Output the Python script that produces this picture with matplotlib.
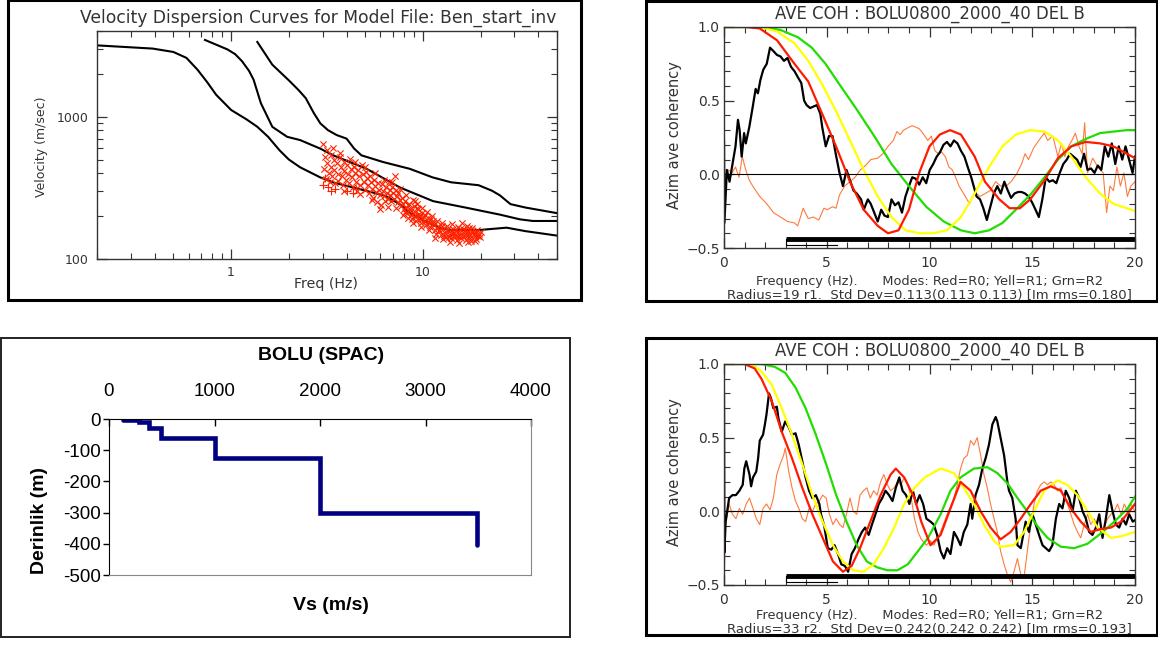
import numpy as np
import matplotlib
matplotlib.use('Agg')
import matplotlib.pyplot as plt
from matplotlib.patches import Rectangle
from matplotlib.ticker import FixedLocator, FixedFormatter, MultipleLocator, NullFormatter

# ---------------- dispersion curves (Hz, m/s) ----------------
mode0_f = [0.2, 0.39, 0.5, 0.585, 0.668, 0.75, 0.836, 1.0, 1.2, 1.37, 1.56, 1.79, 2.0, 2.29, 2.91, 3.41,
           5.09, 6.41, 7.59, 8.55, 10.3, 12.3, 13.8, 19.8, 27.3, 34.2, 50]
mode0_v = [3170, 3010, 2850, 2590, 2140, 1750, 1425, 1115, 960, 849, 722, 580, 500, 441, 375, 345,
           301, 277, 242, 211, 184, 165, 160, 160, 166, 157, 146]
mode1_f = [0.731, 0.957, 1.05, 1.14, 1.24, 1.31, 1.43, 1.64, 1.96, 2.29, 2.92, 3.41, 5.09, 7.59, 11.3,
           16.9, 25.2, 32, 37.4, 50]
mode1_v = [3460, 2970, 2750, 2455, 2100, 1820, 1244, 849, 722, 685, 596, 535, 430, 318, 255,
           229, 205, 190, 185, 185]
mode2_f = [1.37, 1.64, 2.0, 2.24, 2.45, 2.7, 2.92, 3.2, 3.55, 4.0, 4.38, 4.78, 6.21, 8.55, 11.2, 14.0,
           19.5, 22.9, 25.2, 28.6, 34.2, 50]
mode2_v = [3350, 2320, 1800, 1545, 1350, 1060, 897, 804, 743, 701, 597, 535, 480, 430, 375, 346,
           330, 302, 280, 243, 230, 210]

# observed phase velocities
obs_x = [(3.02, 640), (3.08, 520), (3.05, 430), (3.11, 365), (3.15, 580), (3.18, 470), (3.22, 405),
         (3.26, 350), (3.3, 540), (3.33, 445), (3.37, 385), (3.42, 500), (3.46, 420), (3.5, 340),
         (3.55, 470), (3.6, 395), (3.63, 355), (3.68, 520), (3.72, 440), (3.77, 380), (3.82, 330),
         (3.86, 480), (3.9, 415), (3.96, 360), (4.02, 455), (4.05, 395), (4.1, 340), (4.15, 505),
         (4.2, 430), (4.26, 375), (4.31, 320), (4.37, 445), (4.42, 400), (4.48, 350), (4.55, 300),
         (4.6, 420), (4.66, 380), (4.72, 330), (4.8, 460), (4.86, 395), (4.92, 350), (4.98, 305),
         (5.05, 410), (5.1, 370), (5.17, 330), (5.23, 290), (5.3, 385), (5.36, 345), (5.43, 310),
         (5.5, 270), (5.58, 360), (5.64, 325), (5.7, 295), (5.77, 250), (5.84, 340), (5.9, 305),
         (5.97, 280), (6.05, 240), (6.12, 335), (6.18, 300), (6.25, 275), (6.33, 255), (6.4, 320),
         (6.47, 290), (6.55, 265), (6.62, 345), (6.7, 305), (6.77, 280), (6.85, 255), (6.92, 320),
         (7.0, 290), (7.08, 265), (7.15, 380), (7.22, 305), (7.3, 275), (7.38, 250), (7.45, 290),
         (7.55, 260), (7.65, 235), (7.75, 270), (7.85, 245), (7.95, 225), (8.05, 255), (8.15, 230),
         (8.25, 210), (8.35, 195), (8.45, 245), (8.55, 225), (8.65, 205), (8.75, 190), (8.85, 260),
         (8.95, 235), (9.05, 215), (9.15, 200), (9.25, 185), (9.35, 245), (9.45, 225), (9.55, 208),
         (9.65, 192), (9.75, 178), (9.85, 230), (9.95, 212), (10.1, 198), (10.2, 184), (10.35, 172),
         (10.5, 215), (10.65, 195), (10.8, 180), (10.95, 168), (11.1, 200), (11.25, 185), (11.4, 172),
         (11.55, 160), (11.7, 150), (11.85, 185), (12.0, 170), (12.2, 158), (12.4, 148), (12.6, 178),
         (12.8, 163), (13.0, 152), (13.2, 143), (13.4, 170), (13.6, 158), (13.8, 148), (14.0, 140),
         (14.2, 176), (14.4, 162), (14.6, 152), (14.8, 144), (15.0, 136), (15.2, 168), (15.4, 157),
         (15.6, 148), (15.8, 140), (16.0, 178), (16.2, 163), (16.4, 153), (16.6, 145), (16.8, 137),
         (17.0, 170), (17.2, 158), (17.4, 149), (17.6, 141), (17.8, 134), (18.0, 165), (18.3, 154),
         (18.6, 146), (18.9, 139), (19.2, 160), (19.5, 150), (19.8, 143), (20.0, 155),
         (8.1, 215), (8.4, 238), (8.7, 218), (9.0, 200), (9.3, 228), (9.6, 200), (9.9, 190),
         (10.3, 205), (10.6, 185), (11.0, 190), (11.3, 178), (11.8, 165), (12.1, 160), (12.5, 170),
         (12.9, 145), (13.3, 160), (13.7, 142), (14.1, 155), (14.5, 145), (14.9, 160), (15.3, 145),
         (15.7, 162), (16.1, 145), (16.5, 160), (16.9, 150), (17.3, 165), (17.7, 148), (18.1, 158),
         (18.5, 150), (19.0, 152), (19.4, 145),
         (3.4, 600), (3.7, 560), (4.4, 480), (5.0, 440), (5.6, 400), (6.3, 360), (6.9, 350),
         (7.6, 310), (8.2, 280), (9.1, 255), (3.9, 300), (4.7, 285), (5.4, 260), (6.0, 225),
         (6.6, 232), (7.2, 228), (7.9, 205), (8.9, 178), (9.8, 168), (10.8, 160), (11.6, 140),
         (12.7, 138), (13.9, 132), (15.5, 130), (17.1, 131), (18.7, 134)]
obs_plus = [(3.0, 330), (3.2, 320), (3.5, 310), (4.0, 300), (3.1, 370), (3.3, 300), (4.3, 290),
            (4.5, 310)]

# ---------------- Vs profile ----------------
vs = [130, 280, 280, 380, 380, 495, 495, 1005, 1005, 2000, 2000, 3490, 3490]
depth = [-4, -4, -10, -10, -30, -30, -61, -61, -125, -125, -300, -300, -405]
vs_ticks = [0, 1000, 2000, 3000, 4000]
depth_ticks = [0, -100, -200, -300, -400, -500]

# ---------------- coherency, radius r1 ----------------
r1_black = [(0.00, 0.23), (0.02, -0.33), (0.14, 0.03), (0.27, -0.05), (0.39, 0.05), (0.56, 0.19),
            (0.68, 0.37), (0.76, 0.30), (0.86, 0.12), (0.98, 0.28), (1.06, 0.21), (1.23, 0.32),
            (1.40, 0.46), (1.54, 0.58), (1.65, 0.55), (1.77, 0.64), (1.91, 0.71), (2.08, 0.75),
            (2.24, 0.86), (2.38, 0.84), (2.58, 0.81), (2.75, 0.80), (2.92, 0.77), (3.09, 0.79),
            (3.26, 0.73), (3.43, 0.70), (3.59, 0.66), (3.76, 0.62), (3.90, 0.50), (4.02, 0.47),
            (4.19, 0.45), (4.35, 0.46), (4.52, 0.47), (4.69, 0.41), (4.78, 0.32), (4.95, 0.19),
            (5.11, 0.26), (5.28, 0.26), (5.45, 0.13), (5.62, 0.01), (5.79, -0.08), (5.96, 0.03),
            (6.13, -0.04), (6.30, -0.11), (6.46, -0.13), (6.67, -0.17), (6.80, -0.24), (7.00, -0.17),
            (7.14, -0.20), (7.31, -0.26), (7.48, -0.32), (7.65, -0.24), (7.81, -0.28), (7.98, -0.29),
            (8.15, -0.17), (8.32, -0.21), (8.49, -0.19), (8.66, -0.26), (8.83, -0.15), (9.00, -0.08),
            (9.16, -0.02), (9.33, -0.03), (9.50, -0.07), (9.67, -0.02), (9.84, -0.06), (10.01, 0.03),
            (10.18, 0.07), (10.35, 0.12), (10.51, 0.15), (10.68, 0.20), (10.85, 0.22), (11.02, 0.19),
            (11.19, 0.23), (11.36, 0.21), (11.53, 0.16), (11.70, 0.12), (11.86, 0.05), (12.03, -0.02),
            (12.29, -0.15), (12.46, -0.17), (12.62, -0.23), (12.79, -0.31), (12.96, -0.22),
            (13.13, -0.13), (13.30, -0.08), (13.47, -0.13), (13.64, -0.05), (13.81, -0.11),
            (13.97, -0.16), (14.14, -0.13), (14.31, -0.12), (14.48, -0.12), (14.65, -0.13),
            (14.82, -0.15), (14.99, -0.19), (15.16, -0.24), (15.32, -0.29), (15.49, -0.17),
            (15.66, -0.02), (15.83, -0.05), (16.00, -0.04), (16.17, -0.06), (16.34, 0.01), (16.51, 0.07),
            (16.68, 0.10), (16.84, 0.14), (17.01, 0.12), (17.18, 0.10), (17.35, 0.05), (17.52, 0.14),
            (17.69, 0.03), (17.86, 0.04), (18.03, 0.01), (18.19, 0.06), (18.36, 0.03), (18.53, 0.19),
            (18.70, 0.12), (18.87, 0.21), (19.04, 0.07), (19.21, 0.19), (19.38, 0.10), (19.54, 0.19),
            (19.71, 0.10), (19.88, 0.01), (20.00, 0.12)]
r1_orange = [(0.00, -0.44), (0.05, -0.02), (0.22, 0.03), (0.39, 0.01), (0.56, 0.05), (0.73, -0.02),
             (0.89, 0.12), (1.06, 0.03), (1.23, -0.04), (1.40, -0.08), (1.74, -0.15), (2.08, -0.20),
             (2.41, -0.26), (2.75, -0.29), (3.09, -0.32), (3.43, -0.33), (3.59, -0.35), (3.85, -0.23),
             (4.10, -0.30), (4.35, -0.29), (4.61, -0.31), (4.86, -0.23), (5.03, -0.24), (5.28, -0.22),
             (5.45, -0.23), (5.62, -0.14), (5.87, -0.08), (6.13, -0.05), (6.38, -0.02), (6.63, 0.03),
             (6.89, 0.06), (7.14, 0.10), (7.48, 0.11), (7.73, 0.14), (7.98, 0.19), (8.24, 0.23),
             (8.41, 0.29), (8.57, 0.27), (8.74, 0.30), (9.00, 0.32), (9.16, 0.33), (9.33, 0.32),
             (9.50, 0.31), (9.67, 0.28), (9.92, 0.23), (10.09, 0.26), (10.26, 0.16), (10.43, 0.14),
             (10.60, 0.15), (10.77, 0.12), (10.94, 0.05), (11.11, 0.03), (11.27, -0.02), (11.44, -0.08),
             (11.70, -0.14), (11.95, -0.20), (12.20, -0.12), (12.46, -0.15), (12.71, -0.13),
             (12.96, -0.11), (13.22, -0.05), (13.47, -0.08), (13.72, -0.08), (13.97, -0.05),
             (14.23, 0.00), (14.48, 0.07), (14.65, 0.14), (14.82, 0.10), (15.07, 0.18), (15.32, 0.23),
             (15.58, 0.28), (15.75, 0.23), (16.00, 0.26), (16.25, 0.12), (16.42, 0.21), (16.59, 0.12),
             (16.76, 0.19), (16.93, 0.23), (17.10, 0.28), (17.27, 0.19), (17.43, 0.14), (17.55, 0.35),
             (17.69, 0.01), (17.94, 0.11), (18.19, 0.05), (18.45, 0.01), (18.62, -0.26), (18.78, -0.08),
             (18.95, -0.11), (19.12, 0.05), (19.29, -0.08), (19.46, 0.01), (19.63, -0.15),
             (19.80, -0.08), (20.00, -0.05)]
r1_mode0 = [(0, 1.0), (1.06, 1.0), (1.74, 0.99), (2.58, 0.91), (3.43, 0.75), (4.10, 0.63), (4.78, 0.41),
            (5.45, 0.19), (6.13, -0.05), (6.80, -0.24), (7.48, -0.35), (7.98, -0.40), (8.49, -0.38),
            (9.0, -0.24), (9.50, 0.01), (10.0, 0.19), (10.5, 0.27), (11.0, 0.30), (11.53, 0.27),
            (12.2, 0.12), (12.7, -0.05), (13.4, -0.17), (13.9, -0.23), (14.4, -0.23), (14.9, -0.17),
            (15.6, -0.04), (16.25, 0.11), (16.9, 0.19), (17.6, 0.22), (18.3, 0.21), (18.95, 0.19),
            (19.6, 0.14), (20, 0.11)]
r1_mode1 = [(0, 1.0), (1.74, 1.0), (2.58, 0.97), (3.43, 0.89), (4.10, 0.77), (4.78, 0.61), (5.45, 0.43),
            (6.13, 0.23), (6.80, 0.03), (7.48, -0.15), (8.15, -0.29), (8.83, -0.38), (9.50, -0.40),
            (10.18, -0.40), (10.85, -0.38), (11.53, -0.29), (12.2, -0.13), (12.9, 0.05), (13.55, 0.19),
            (14.2, 0.27), (14.9, 0.30), (15.6, 0.29), (16.25, 0.23), (16.9, 0.12), (17.6, -0.02),
            (18.3, -0.13), (18.95, -0.20), (19.6, -0.23), (20, -0.25)]
r1_mode2 = [(0, 1.0), (1.74, 1.0), (2.75, 0.98), (3.6, 0.93), (4.27, 0.86), (4.94, 0.75), (5.62, 0.61),
            (6.46, 0.44), (7.31, 0.26), (8.15, 0.07), (9.0, -0.08), (9.84, -0.22), (10.69, -0.32),
            (11.53, -0.38), (12.2, -0.40), (12.9, -0.38), (13.55, -0.33), (14.2, -0.24), (14.9, -0.14),
            (15.6, -0.02), (16.25, 0.10), (16.9, 0.19), (17.6, 0.24), (18.3, 0.28), (18.95, 0.29),
            (19.6, 0.30), (20, 0.30)]

# ---------------- coherency, radius r2 ----------------
r2_black = [(0.00, 0.79), (0.02, -0.28), (0.08, -0.07), (0.25, 0.09), (0.41, 0.11), (0.58, 0.11),
            (0.75, 0.14), (0.91, 0.18), (0.99, 0.29), (1.08, 0.34), (1.24, 0.25), (1.32, 0.17),
            (1.41, 0.23), (1.57, 0.27), (1.66, 0.36), (1.74, 0.48), (1.90, 0.52), (1.99, 0.59),
            (2.07, 0.66), (2.19, 0.80), (2.28, 0.77), (2.40, 0.70), (2.57, 0.71), (2.65, 0.63),
            (2.81, 0.54), (2.98, 0.61), (3.15, 0.57), (3.31, 0.52), (3.48, 0.53), (3.64, 0.45),
            (3.81, 0.34), (3.97, 0.23), (4.14, 0.14), (4.30, 0.09), (4.47, 0.11), (4.64, 0.05),
            (4.72, -0.02), (4.88, -0.10), (5.05, -0.25), (5.22, -0.26), (5.38, -0.23), (5.55, -0.29),
            (5.71, -0.36), (5.88, -0.37), (6.04, -0.41), (6.21, -0.29), (6.37, -0.25), (6.54, -0.19),
            (6.71, -0.14), (6.87, -0.11), (7.04, -0.16), (7.20, -0.09), (7.37, -0.02), (7.53, 0.05),
            (7.70, 0.09), (7.86, 0.14), (8.03, 0.11), (8.20, 0.07), (8.36, 0.16), (8.53, 0.23),
            (8.69, 0.14), (8.86, 0.11), (9.02, 0.05), (9.19, 0.14), (9.35, 0.05), (9.52, 0.11),
            (9.69, 0.05), (9.85, -0.05), (10.05, -0.07), (10.21, -0.09), (10.37, -0.16), (10.54, -0.27),
            (10.70, -0.32), (10.86, -0.25), (11.02, -0.29), (11.19, -0.14), (11.35, -0.18),
            (11.51, -0.23), (11.67, -0.14), (11.84, -0.09), (12.00, 0.05), (12.08, -0.05), (12.24, 0.11),
            (12.41, 0.18), (12.57, 0.29), (12.73, 0.36), (12.89, 0.45), (13.06, 0.59), (13.22, 0.64),
            (13.30, 0.61), (13.46, 0.50), (13.63, 0.38), (13.79, 0.20), (13.87, 0.14), (14.03, 0.09),
            (14.19, -0.05), (14.28, -0.23), (14.44, -0.25), (14.68, -0.07), (14.84, -0.14),
            (15.01, -0.02), (15.17, -0.09), (15.33, -0.16), (15.50, -0.23), (15.66, -0.25),
            (15.82, -0.27), (15.98, -0.23), (16.15, -0.05), (16.31, 0.05), (16.47, 0.02), (16.63, 0.14),
            (16.80, 0.09), (16.96, 0.00), (17.12, 0.14), (17.28, 0.09), (17.45, 0.00), (17.61, -0.05),
            (17.77, -0.14), (17.93, -0.16), (18.10, -0.11), (18.26, -0.02), (18.42, -0.18),
            (18.58, -0.05), (18.75, 0.11), (18.91, 0.00), (19.07, -0.09), (19.23, -0.11), (19.40, -0.05),
            (19.56, -0.09), (19.72, -0.02), (19.89, -0.07), (20.00, -0.06)]
r2_orange = [(0.00, -0.50), (0.08, -0.09), (0.25, 0.05), (0.41, -0.02), (0.58, -0.05), (0.75, 0.02),
             (0.91, -0.02), (1.08, 0.05), (1.24, 0.09), (1.41, 0.02), (1.57, -0.05), (1.74, -0.09),
             (1.90, 0.02), (2.07, 0.05), (2.24, 0.01), (2.40, 0.09), (2.57, 0.25), (2.73, 0.32),
             (2.90, 0.38), (2.98, 0.43), (3.15, 0.27), (3.31, 0.16), (3.48, 0.07), (3.64, 0.02),
             (3.81, -0.05), (3.97, -0.07), (4.14, 0.02), (4.30, 0.00), (4.47, 0.05), (4.64, 0.07),
             (4.80, 0.11), (4.97, 0.09), (5.13, -0.02), (5.30, -0.09), (5.46, -0.05), (5.63, -0.09),
             (5.79, -0.11), (5.96, -0.02), (6.13, 0.09), (6.29, 0.00), (6.46, -0.02), (6.62, 0.11),
             (6.79, 0.14), (6.95, 0.16), (7.12, 0.09), (7.28, 0.14), (7.45, 0.11), (7.62, 0.20),
             (7.78, 0.25), (7.95, 0.18), (8.11, 0.14), (8.28, 0.16), (8.44, 0.20), (8.61, 0.18),
             (8.77, 0.23), (8.94, 0.18), (9.11, 0.09), (9.27, -0.05), (9.44, -0.14), (9.60, -0.19),
             (9.85, -0.23), (10.05, -0.20), (10.21, -0.23), (10.54, -0.14), (10.86, -0.02), (11.19, 0.09),
             (11.35, 0.18), (11.51, 0.29), (11.67, 0.36), (11.84, 0.38), (12.00, 0.48), (12.16, 0.45),
             (12.32, 0.50), (12.49, 0.38), (12.65, 0.25), (12.81, 0.16), (12.97, 0.05), (13.14, -0.05),
             (13.30, -0.14), (13.46, -0.27), (13.63, -0.36), (13.79, -0.43), (13.95, -0.48),
             (14.11, -0.41), (14.28, -0.32), (14.44, -0.43), (14.60, -0.45), (14.76, -0.27),
             (14.93, -0.09), (15.09, 0.05), (15.25, 0.14), (15.41, 0.18), (15.58, 0.20), (15.74, 0.18),
             (15.90, 0.20), (16.06, 0.18), (16.23, 0.14), (16.39, 0.16), (16.55, 0.09), (16.71, 0.05),
             (16.88, -0.02), (17.04, -0.09), (17.20, -0.14), (17.36, -0.18), (17.53, -0.09),
             (17.69, -0.02), (17.85, -0.09), (18.02, -0.05), (18.18, -0.11), (18.34, -0.14),
             (18.50, -0.11), (18.67, -0.05), (18.83, -0.02), (18.99, 0.00), (19.15, 0.05), (19.32, -0.02),
             (19.48, 0.05), (19.64, 0.00), (19.80, 0.05), (20.00, 0.00)]
r2_mode0 = [(0, 1.0), (0.99, 1.0), (1.49, 0.97), (1.82, 0.90), (2.32, 0.75), (2.81, 0.54), (3.31, 0.36),
            (3.81, 0.16), (4.30, -0.02), (4.80, -0.18), (5.30, -0.34), (5.79, -0.41), (6.21, -0.37),
            (6.62, -0.25), (7.12, -0.07), (7.62, 0.11), (8.11, 0.25), (8.36, 0.29), (8.77, 0.23),
            (9.27, 0.09), (9.60, -0.07), (10.05, -0.23), (10.54, -0.16), (11.02, 0.02), (11.51, 0.20),
            (12.0, 0.14), (12.49, 0.0), (12.97, -0.11), (13.46, -0.19), (13.95, -0.14), (14.44, -0.05),
            (14.93, 0.05), (15.41, 0.14), (15.9, 0.17), (16.39, 0.14), (16.88, 0.02), (17.36, -0.07),
            (17.85, -0.14), (18.34, -0.12), (18.83, -0.11), (19.32, -0.07), (20.0, 0.05)]
r2_mode1 = [(0, 1.0), (1.32, 1.0), (1.82, 0.95), (2.32, 0.86), (2.81, 0.70), (3.31, 0.52), (3.81, 0.32),
            (4.30, 0.11), (4.80, -0.07), (5.30, -0.23), (5.79, -0.34), (6.29, -0.40), (6.79, -0.41),
            (7.28, -0.36), (7.78, -0.25), (8.28, -0.11), (8.77, 0.05), (9.27, 0.16), (9.77, 0.23),
            (10.54, 0.29), (11.19, 0.26), (11.67, 0.16), (12.16, 0.05), (12.65, -0.09), (13.14, -0.20),
            (13.46, -0.24), (14.11, -0.23), (14.6, -0.14), (15.09, 0.0), (15.58, 0.14), (16.23, 0.21),
            (16.71, 0.18), (17.2, 0.11), (17.69, 0.0), (18.18, -0.11), (18.83, -0.18), (19.32, -0.17),
            (20.0, -0.14)]
r2_mode2 = [(0, 1.0), (1.82, 1.0), (2.48, 0.98), (2.98, 0.94), (3.48, 0.84), (3.97, 0.70), (4.47, 0.52),
            (4.97, 0.32), (5.46, 0.11), (5.96, -0.07), (6.46, -0.23), (6.95, -0.34), (7.45, -0.38),
            (7.95, -0.40), (8.44, -0.40), (8.94, -0.36), (9.44, -0.27), (9.93, -0.18), (10.54, -0.02),
            (11.02, 0.14), (11.51, 0.23), (12.16, 0.29), (12.81, 0.30), (13.3, 0.26), (13.79, 0.19),
            (14.28, 0.09), (14.76, 0.0), (15.25, -0.10), (15.74, -0.18), (16.39, -0.24), (17.04, -0.25),
            (17.69, -0.22), (18.34, -0.15), (19.0, -0.07), (19.64, 0.02), (20.0, 0.10)]

W, H = 1158, 645
fig = plt.figure(figsize=(W / 100, H / 100), dpi=100)
INK = '#333333'


def box(l, t, r, b):
    return [l / W, 1 - b / H, (r - l) / W, (b - t) / H]


def frame(l, t, r, b, lw=2.2, color='black'):
    # invisible axes in pixel units, used for the border and the loose text
    fa = fig.add_axes(box(l, t, r, b))
    fa.set_xlim(l, r)
    fa.set_ylim(b, t)
    fa.axis('off')
    fa.add_patch(Rectangle((l, t), r - l, b - t, fill=False, lw=lw, ec=color, clip_on=False))
    return fa


def idl_ticks(ax, size=9):
    ax.tick_params(which='both', direction='in', top=True, right=True, colors=INK,
                   labelcolor=INK, labelsize=size)
    ax.tick_params(which='major', length=7, width=0.9)
    ax.tick_params(which='minor', length=4, width=0.8)
    for s in ax.spines.values():
        s.set_color(INK)
        s.set_linewidth(1.0)


# ---------------- top left: dispersion ----------------
fa1 = frame(8, 0, 581, 300)
ax1 = fig.add_axes(box(97, 31, 557, 259))
ax1.set_xscale('log')
ax1.set_yscale('log')
for f, v in [(mode0_f, mode0_v), (mode1_f, mode1_v), (mode2_f, mode2_v)]:
    ax1.plot(f, v, color='black', lw=1.5)
ox = np.array(obs_x).T
op = np.array(obs_plus).T
ax1.scatter(ox[0], ox[1], marker='x', s=20, color='#ff2200', lw=0.8, zorder=3)
ax1.scatter(op[0], op[1], marker='+', s=26, color='#ff2200', lw=0.8, zorder=3)
ax1.set_xlim(0.2, 50)
ax1.set_ylim(100, 4000)
idl_ticks(ax1)
ax1.xaxis.set_major_locator(FixedLocator([1, 10]))
ax1.xaxis.set_major_formatter(FixedFormatter(['1', '10']))
ax1.yaxis.set_major_locator(FixedLocator([100, 1000]))
ax1.yaxis.set_major_formatter(FixedFormatter(['100', '1000']))
ax1.xaxis.set_minor_formatter(NullFormatter())
ax1.yaxis.set_minor_formatter(NullFormatter())
ax1.tick_params(axis='x', pad=5)
ax1.tick_params(axis='y', pad=6)
fa1.text(80, 18, 'Velocity Dispersion Curves for Model File: Ben_start_inv', fontsize=12.3,
         color=INK, va='center', ha='left', clip_on=True)
fa1.text(326, 284, 'Freq (Hz)', fontsize=10.2, color=INK, ha='center', va='center')
fa1.text(41, 147, 'Velocity (m/sec)', fontsize=9, color=INK, ha='center', va='center', rotation=90)

# ---------------- bottom left: Vs profile ----------------
fa3 = frame(1, 338, 570, 637, lw=1.4, color='#222222')
ax3 = fig.add_axes(box(109, 419, 531, 575))
ax3.plot(vs, depth, color='#000080', lw=3.3, solid_capstyle='round', solid_joinstyle='miter')
ax3.set_xlim(0, 4000)
ax3.set_ylim(-500, 0)
ax3.xaxis.tick_top()
ax3.xaxis.set_major_locator(FixedLocator(vs_ticks))
ax3.xaxis.set_major_formatter(FixedFormatter([str(v) for v in vs_ticks]))
ax3.yaxis.set_major_locator(FixedLocator(depth_ticks))
ax3.yaxis.set_major_formatter(FixedFormatter([str(d) for d in depth_ticks]))
ax3.tick_params(axis='x', direction='in', length=5, width=1, pad=14)
ax3.tick_params(axis='y', direction='out', length=4, width=1, pad=2)
ax3.tick_params(labelsize=13.5)
for lab in ax3.get_xticklabels() + ax3.get_yticklabels():
    lab.set_family('Liberation Sans')
ax3.spines['top'].set_color('black')
ax3.spines['left'].set_color('black')
ax3.spines['right'].set_color('#888888')
ax3.spines['bottom'].set_color('#888888')
fa3.text(321, 355, 'BOLU (SPAC)', fontsize=14, fontweight='bold', family='Liberation Sans',
         ha='center', va='center')
fa3.text(331, 605, 'Vs (m/s)', fontsize=14, fontweight='bold', family='Liberation Sans',
         ha='center', va='center')
fa3.text(40, 521, 'Derinlik (m)', fontsize=14, fontweight='bold', family='Liberation Sans',
         ha='center', va='center', rotation=90)


# ---------------- right: azimuthal coherency ----------------
def coherency(fbox, abox, ylab_y, line_y, black, orange, m0, m1, m2, stats):
    fa = frame(*fbox)
    ax = fig.add_axes(box(*abox))
    b = np.array(black).T
    o = np.array(orange).T
    ax.plot(o[0], o[1], color='#ff7a3c', lw=0.8)
    ax.plot(b[0], b[1], color='black', lw=1.6)
    for m, c in [(m2, '#22dd00'), (m1, '#ffff00'), (m0, '#ff1a00')]:
        a = np.array(m).T
        ax.plot(a[0], a[1], color=c, lw=1.6)
    ax.axhline(0, color='black', lw=0.8)
    ax.plot([3, 20], [-0.44, -0.44], color='black', lw=3.5, solid_capstyle='butt')
    ax.plot([3, 3, 5.5], [-0.44, -0.48, -0.48], color='black', lw=0.8)
    ax.set_xlim(0, 20)
    ax.set_ylim(-0.5, 1.0)
    idl_ticks(ax, size=10)
    ax.xaxis.set_major_locator(MultipleLocator(5))
    ax.xaxis.set_minor_locator(MultipleLocator(1))
    ax.yaxis.set_major_locator(FixedLocator([-0.5, 0.0, 0.5, 1.0]))
    ax.yaxis.set_major_formatter(FixedFormatter(['\u22120.5', '0.0', '0.5', '1.0']))
    ax.yaxis.set_minor_locator(MultipleLocator(0.1))
    ax.tick_params(axis='x', pad=6)
    ax.tick_params(axis='y', pad=3)
    l, t, r, bt = abox
    fa.text((l + r) / 2, t - 13, 'AVE COH : BOLU0800_2000_40 DEL B', fontsize=11.9,
            color=INK, ha='center', va='center')
    fa.text(674, ylab_y, 'Azim ave coherency', fontsize=10.5, color=INK, ha='center',
            va='center', rotation=90)
    fa.text(929, line_y, 'Frequency (Hz).      Modes: Red=R0; Yell=R1; Grn=R2', fontsize=9.3,
            color=INK, ha='center', va='center')
    fa.text(929, line_y + 14, stats, fontsize=9.5, color=INK, ha='center', va='center',
            clip_on=True)


coherency((646, 1, 1157, 301), (724, 27, 1135, 248), 135, 282, r1_black, r1_orange,
          r1_mode0, r1_mode1, r1_mode2,
          'Radius=19 r1.  Std Dev=0.113(0.113 0.113) [Im rms=0.180]')
coherency((646, 338, 1157, 635), (724, 364, 1135, 585), 472, 615, r2_black, r2_orange,
          r2_mode0, r2_mode1, r2_mode2,
          'Radius=33 r2.  Std Dev=0.242(0.242 0.242) [Im rms=0.193]')

fig.savefig('out.png', dpi=100)
